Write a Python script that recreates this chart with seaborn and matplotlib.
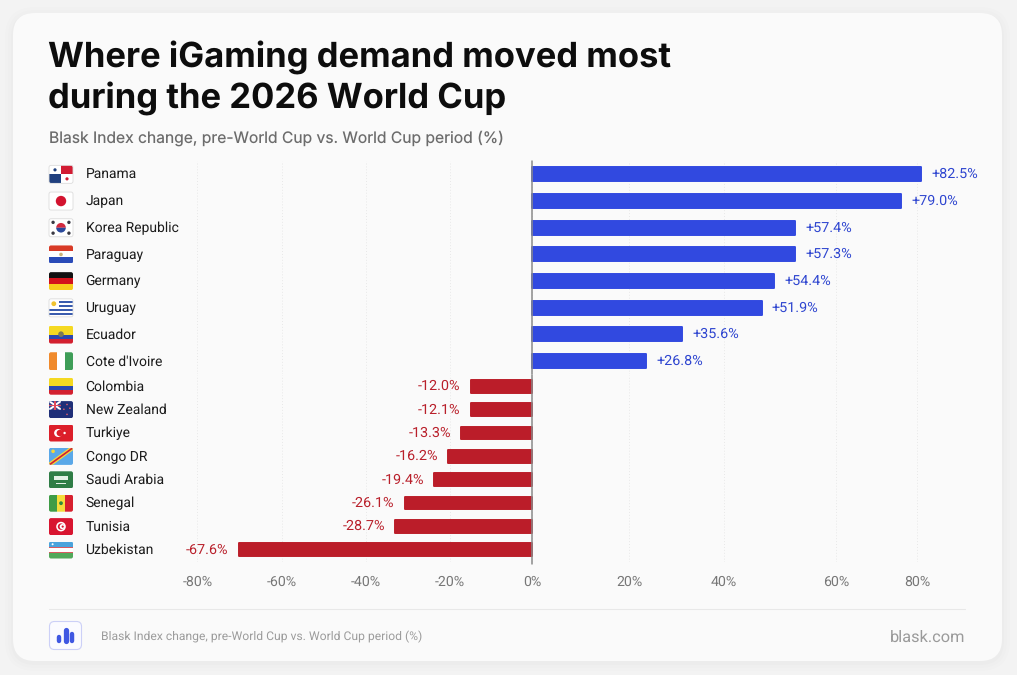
import numpy as np
import pandas as pd
import matplotlib
matplotlib.use('Agg')
import matplotlib.pyplot as plt
import seaborn as sns
from matplotlib.patches import Rectangle, Circle, FancyBboxPatch, Polygon, Wedge

# Countries, printed changes and bar ends as they read against the picture's axis
gain_countries = ['Panama', 'Japan', 'Korea Republic', 'Paraguay', 'Germany', 'Uruguay', 'Ecuador', "Cote d'Ivoire"]
gain_labels = ['+82.5%', '+79.0%', '+57.4%', '+57.3%', '+54.4%', '+51.9%', '+35.6%', '+26.8%']
gain_bars = [80.7, 76.1, 52.6, 52.6, 49.0, 46.7, 31.1, 23.5]

loss_countries = ['Colombia', 'New Zealand', 'Turkiye', 'Congo DR', 'Saudi Arabia', 'Senegal', 'Tunisia', 'Uzbekistan']
loss_labels = ['-12.0%', '-12.1%', '-13.3%', '-16.2%', '-19.4%', '-26.1%', '-28.7%', '-67.6%']
loss_bars = [-14.8, -14.9, -17.1, -20.3, -23.6, -30.7, -32.9, -70.2]

tick_values = [-80, -60, -40, -20, 0, 20, 40, 60, 80]
tick_labels = ['-80%', '-60%', '-40%', '-20%', '0%', '20%', '40%', '60%', '80%']

# Where the ticks sit across the image: the printed axis is not evenly spaced
scale_values = [-90] + tick_values + [90]
scale_px = [155, 197.3, 281.5, 365.5, 449.5, 532, 629, 724, 836, 917.3, 965]

BLUE = '#3149e0'
RED = '#bb1d29'
BLUE_TEXT = '#2f46d0'
RED_TEXT = '#b9202b'
SMALL_FONT = ['Roboto', 'DejaVu Sans']
W, H = 1017, 675

sns.set_theme(style='white')
plt.rcParams['font.family'] = ['Inter', 'DejaVu Sans']
plt.rcParams['text.hinting'] = 'no_hinting'

fig = plt.figure(figsize=(W / 100, H / 100), dpi=100, facecolor='#f3f3f3')

# background layer in image pixels, for the card, flags and footer
deco = fig.add_axes([0, 0, 1, 1], zorder=0)
deco.set_xlim(0, W)
deco.set_ylim(H, 0)
deco.axis('off')

for grow, alpha in [(8, 0.006), (5, 0.008), (2, 0.012)]:
    deco.add_patch(FancyBboxPatch((13 - grow, 13 - grow + 2), 989 + 2 * grow, 648 + 2 * grow,
                                  boxstyle='round,pad=0,rounding_size=%d' % (22 + grow),
                                  fc='black', ec='none', alpha=alpha))
deco.add_patch(FancyBboxPatch((13, 13), 989, 648, boxstyle='round,pad=0,rounding_size=22',
                              fc='#fafafa', ec='none'))

deco.text(48, 58, 'Where iGaming demand moved most', fontsize=24.9, fontweight='bold',
          color='#0d0d0d', va='center')
deco.text(48, 99, 'during the 2026 World Cup', fontsize=24.9, fontweight='bold',
          color='#0d0d0d', va='center')
deco.text(49, 138, 'Blask Index change, pre-World Cup vs. World Cup period (%)', fontsize=11.25,
          color='#6c6c6c', va='center')


def px_axes(left, top, right, bottom):
    return fig.add_axes([left / W, 1 - bottom / H, (right - left) / W, (bottom - top) / H],
                        zorder=1, facecolor='none')


def to_pos(v):
    return np.interp(v, scale_values, scale_px)


def from_pos(p):
    return np.interp(p, scale_px, scale_values)


AX_L, AX_R = scale_px[0], scale_px[-1]
TOP, MID, BOTTOM = 161, 374.5, 561.5
top_ax = px_axes(AX_L, TOP, AX_R, MID)
bot_ax = px_axes(AX_L, MID, AX_R, BOTTOM)

gain_df = pd.DataFrame({'country': gain_countries, 'change': gain_bars})
loss_df = pd.DataFrame({'country': loss_countries, 'change': loss_bars})
sns.barplot(data=gain_df, x='change', y='country', ax=top_ax, color=BLUE, saturation=1, width=0.525)
sns.barplot(data=loss_df, x='change', y='country', ax=bot_ax, color=RED, saturation=1, width=0.545)

for ax, labels, col in [(top_ax, gain_labels, BLUE_TEXT), (bot_ax, loss_labels, RED_TEXT)]:
    ax.set_xscale('function', functions=(to_pos, from_pos))
    ax.set_xlim(scale_values[0], scale_values[-1])
    for spine in ax.spines.values():
        spine.set_visible(False)
    ax.set_xlabel('')
    ax.set_ylabel('')
    ax.set_yticks([])
    ax.set_xticks(tick_values)
    ax.xaxis.set_minor_locator(matplotlib.ticker.NullLocator())
    ax.xaxis.grid(True, linestyle=(0, (1, 2)), color='#e8e8e8', linewidth=0.7)
    ax.set_axisbelow(True)
    for bar in ax.containers[0]:
        # thick round-joined edge gives the bars their soft corners
        bar.set_edgecolor(bar.get_facecolor())
        bar.set_linewidth(1.4)
        bar.set_joinstyle('round')
    ax.bar_label(ax.containers[0], labels=labels, padding=7.5, color=col, fontsize=10.4,
                 family=SMALL_FONT)
    ax.axvline(0, color='#8a8a8a', linewidth=1.1, zorder=5, clip_on=False,
               ymin=-0.012 if ax is bot_ax else 0)

top_ax.tick_params(axis='x', length=0, labelbottom=False)
bot_ax.set_xticklabels(tick_labels, family=SMALL_FONT)
bot_ax.tick_params(axis='x', length=0, pad=10, labelsize=10.2, labelcolor='#777777')


# flags are drawn on a 0-1 square mapped on to their place on the card
def draw_flag(name, cy, h):
    x0, y0, w = 49, cy - h / 2, 24
    clip = FancyBboxPatch((x0, y0), w, h, boxstyle='round,pad=0,rounding_size=2',
                          fc='none', ec='none', transform=deco.transData)
    deco.add_patch(clip)

    def add(p):
        deco.add_patch(p)
        p.set_clip_path(clip)

    def box(x, y, bw, bh, c):
        add(Rectangle((x0 + x * w, y0 + y * h), bw * w, bh * h, fc=c, ec='none'))

    def dot(x, y, r, c):
        add(Circle((x0 + x * w, y0 + y * h), r, fc=c, ec='none'))

    def poly(points, c):
        add(Polygon([(x0 + a * w, y0 + b * h) for a, b in points], fc=c, ec='none'))

    def hstripes(colors, sizes=None):
        sizes = sizes or [1 / len(colors)] * len(colors)
        y = 0
        for c, s in zip(colors, sizes):
            box(0, y, 1, s, c)
            y += s

    def vstripes(colors):
        for i, c in enumerate(colors):
            box(i / len(colors), 0, 1 / len(colors), 1, c)

    if name == 'Panama':
        hstripes(['#ffffff'])
        box(0.5, 0, 0.5, 0.5, '#d21c33')
        box(0, 0.5, 0.5, 0.5, '#20407f')
        dot(0.25, 0.25, 1.6, '#20407f')
        dot(0.75, 0.75, 1.6, '#d21c33')
    elif name == 'Japan':
        hstripes(['#ffffff'])
        dot(0.5, 0.5, 5.2, '#d3132f')
    elif name == 'Korea Republic':
        hstripes(['#ffffff'])
        for x, y in [(0.17, 0.2), (0.83, 0.2), (0.17, 0.8), (0.83, 0.8)]:
            dot(x, y, 1.7, '#3a3a44')
        add(Wedge((x0 + 0.5 * w, cy), 4.8, 180, 360, fc='#d22a3f', ec='none'))
        add(Wedge((x0 + 0.5 * w, cy), 4.8, 0, 180, fc='#2a4a9c', ec='none'))
    elif name == 'Paraguay':
        hstripes(['#d83a26', '#ffffff', '#2a4bb8'])
        dot(0.5, 0.5, 1.8, '#c9b27a')
    elif name == 'Germany':
        hstripes(['#111111', '#d3121c', '#f7cc1c'])
    elif name == 'Uruguay':
        hstripes(['#ffffff', '#3a5cae'] * 4 + ['#ffffff'])
        box(0, 0, 0.42, 0.55, '#ffffff')
        dot(0.2, 0.27, 2.4, '#f0c330')
    elif name == 'Ecuador':
        hstripes(['#f5d922', '#2b48b0', '#d3202f'], [0.5, 0.25, 0.25])
        dot(0.5, 0.48, 2.8, '#7c7a58')
    elif name == "Cote d'Ivoire":
        vstripes(['#f08a2c', '#ffffff', '#3f9e58'])
    elif name == 'Colombia':
        hstripes(['#f5d922', '#2b48b0', '#d3202f'], [0.5, 0.25, 0.25])
    elif name == 'New Zealand':
        hstripes(['#1f2f78'])
        box(0, 0, 0.5, 0.5, '#37458c')
        poly([(0, 0), (0.08, 0), (0.5, 0.44), (0.5, 0.5), (0.42, 0.5), (0, 0.06)], '#ffffff')
        poly([(0.5, 0), (0.42, 0), (0, 0.44), (0, 0.5), (0.08, 0.5), (0.5, 0.06)], '#ffffff')
        box(0.2, 0, 0.1, 0.5, '#e04a5a')
        box(0, 0.2, 0.5, 0.1, '#e04a5a')
        for x, y in [(0.75, 0.2), (0.62, 0.48), (0.87, 0.42), (0.75, 0.78)]:
            dot(x, y, 0.8, '#e8606c')
    elif name == 'Turkiye':
        hstripes(['#dc1f2a'])
        dot(0.38, 0.5, 4.0, '#ffffff')
        dot(0.45, 0.5, 3.2, '#dc1f2a')
        dot(0.65, 0.5, 1.2, '#ffffff')
    elif name == 'Congo DR':
        hstripes(['#5aa8e8'])
        poly([(0, 0.86), (0.84, 0), (1, 0), (1, 0.14), (0.16, 1), (0, 1)], '#f5d63a')
        poly([(0, 0.95), (0.93, 0), (1, 0), (1, 0.05), (0.07, 1), (0, 1)], '#cf2034')
        dot(0.17, 0.2, 1.8, '#f5d63a')
    elif name == 'Saudi Arabia':
        hstripes(['#2f7d46'])
        box(0.22, 0.3, 0.56, 0.24, '#e4f0e6')
        box(0.3, 0.66, 0.42, 0.06, '#e4f0e6')
    elif name == 'Senegal':
        vstripes(['#3e9c46', '#f5dc3a', '#d7202e'])
        dot(0.5, 0.5, 1.9, '#2f8a3c')
    elif name == 'Tunisia':
        hstripes(['#d81530'])
        dot(0.5, 0.5, 4.8, '#ffffff')
        dot(0.5, 0.5, 3.2, '#d81530')
        dot(0.55, 0.5, 2.6, '#ffffff')
        dot(0.57, 0.5, 1.1, '#d81530')
    elif name == 'Uzbekistan':
        hstripes(['#4aa3dc', '#d85a60', '#ffffff', '#d85a60', '#52a85a'], [0.33, 0.03, 0.28, 0.03, 0.33])
        dot(0.15, 0.16, 1.0, '#ffffff')
    if name in ('Japan', 'Korea Republic', 'Panama', 'Uruguay'):
        deco.add_patch(FancyBboxPatch((x0, y0), w, h, boxstyle='round,pad=0,rounding_size=2',
                                      fc='none', ec='#dcdcdc', lw=0.6))


for i, name in enumerate(gain_countries):
    cy = TOP + 26.7 * (i + 0.5)
    draw_flag(name, cy, 18)
    deco.text(85.5, cy + 0.5, name, fontsize=10, color='#1c1c1c', va='center', family=SMALL_FONT)
for i, name in enumerate(loss_countries):
    cy = MID + 23.4 * (i + 0.5)
    draw_flag(name, cy, 17)
    deco.text(85.5, cy + 0.5, name, fontsize=10, color='#1c1c1c', va='center', family=SMALL_FONT)

# footer
deco.plot([49, 965], [609.3, 609.3], color='#e8e8e8', linewidth=0.8)
deco.add_patch(FancyBboxPatch((49.5, 621.5), 32, 28, boxstyle='round,pad=0,rounding_size=5',
                              fc='#fbfbff', ec='#ccd0f7', lw=0.8))
for x, top, bar_w in [(59, 637, 3.2), (65.5, 630, 3.8), (71.5, 634, 3.2)]:
    deco.plot([x, x], [top, 640.5], color='#4058e2', linewidth=bar_w, solid_capstyle='round')
deco.text(101, 636.5, 'Blask Index change, pre-World Cup vs. World Cup period (%)', fontsize=8.7,
          color='#9c9c9c', va='center', family=SMALL_FONT)
deco.text(965, 637, 'blask.com', fontsize=11.8, color='#9a9a9a', va='center', ha='right',
          family=SMALL_FONT)

fig.savefig('out.png', dpi=100, facecolor=fig.get_facecolor())
